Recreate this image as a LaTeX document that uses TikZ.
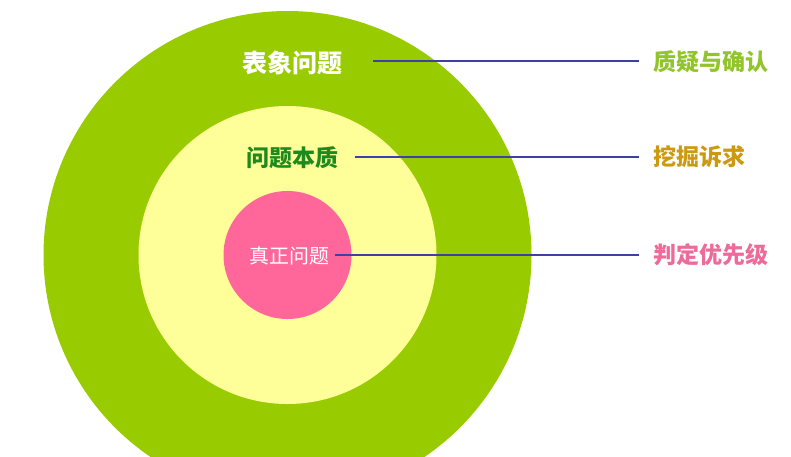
\documentclass[tikz,border=0pt]{standalone}
\usepackage{fontspec}
\newfontfamily\cjk{Noto Sans CJK SC}
\definecolor{ringgreen}{HTML}{99CC00}
\definecolor{ringyellow}{HTML}{FFFF99}
\definecolor{ringpink}{HTML}{FF6699}
\definecolor{linkblue}{HTML}{3F3FA8}
\definecolor{lblgreen}{HTML}{92C52A}
\definecolor{lblgold}{HTML}{CC9A10}
\definecolor{lblpink}{HTML}{EE6A9A}
\definecolor{darkgreen}{HTML}{1E8A1E}
\tikzset{
  lbl/.style={font=\cjk\bfseries\fontsize{23}{26}\selectfont, inner sep=0pt, anchor=west},
  link/.style={draw=linkblue, line width=1.3pt},
}
\begin{document}
\begin{tikzpicture}[x=1pt,y=-1pt]
\useasboundingbox (0,0) rectangle (791,456);
\clip (0,0) rectangle (791,456);
\fill[white] (0,0) rectangle (791,456);
\fill[ringgreen] (287.5,255) circle (244);
\fill[ringyellow] (287.5,255) circle (149);
\fill[ringpink] (287.5,255) circle (64);
\node[font=\cjk\bfseries\fontsize{25}{28}\selectfont, text=white, inner sep=0pt] (t1) at (292,63) {表象问题};
\node[font=\cjk\bfseries\fontsize{23}{26}\selectfont, text=darkgreen, inner sep=0pt] (t2) at (292,158) {问题本质};
\node[font=\cjk\fontsize{20}{23}\selectfont, text=white, inner sep=0pt] (t3) at (289.5,256) {真正问题};
\node[lbl, text=lblgreen] (r1) at (653,62) {质疑与确认};
\node[lbl, text=lblgold] (r2) at (653,157) {挖掘诉求};
\node[lbl, text=lblpink] (r3) at (653,255) {判定优先级};
\coordinate (s1) at (373,61);
\coordinate (s2) at (355,157);
\coordinate (s3) at (335,255);
\draw[link] (s1) -- ([xshift=-14pt]s1 -| r1.west);
\draw[link] (s2) -- ([xshift=-14pt]s2 -| r2.west);
\draw[link] (s3) -- ([xshift=-14pt]s3 -| r3.west);
\end{tikzpicture}
\end{document}
